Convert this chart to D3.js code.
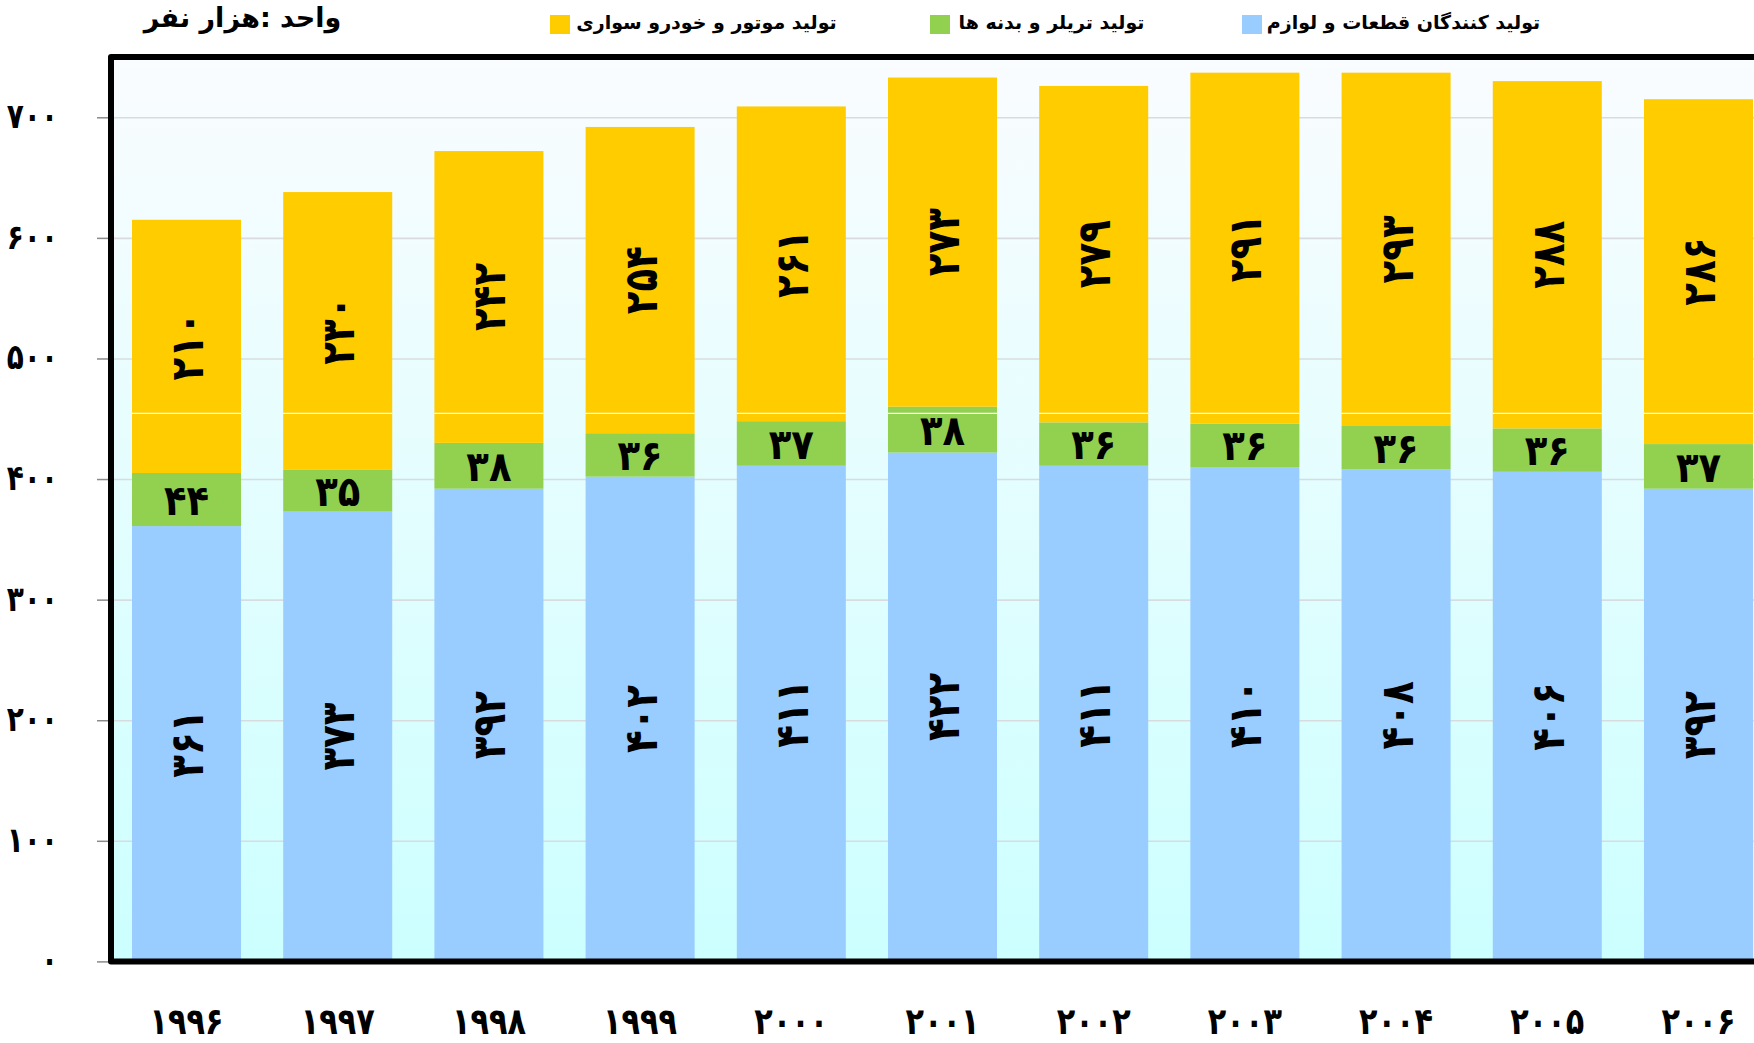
<!DOCTYPE html>
<html>
<head>
<meta charset="utf-8">
<script src="https://cdn.jsdelivr.net/npm/d3@7"></script>
<style>
  html, body { margin: 0; padding: 0; background: #ffffff; overflow: hidden; }
  svg { display: block; }
</style>
</head>
<body>
<svg id="chart" width="1754" height="1043"></svg>
<script>
// ---- data (thousand persons) ----
const years = [1996, 1997, 1998, 1999, 2000, 2001, 2002, 2003, 2004, 2005, 2006];
const partsSuppliers = [361, 373, 392, 402, 411, 422, 411, 410, 408, 406, 392];
const trailersBodies = [44, 35, 38, 36, 37, 38, 36, 36, 36, 36, 37];
const enginesCars    = [210, 230, 242, 254, 261, 273, 279, 291, 293, 288, 286];
const yTickValues = [0, 100, 200, 300, 400, 500, 600, 700];
const seriesKeys = ["parts", "trailers", "cars"];
const seriesLabels = ["تولید کنندگان قطعات و لوازم", "تولید تریلر و بدنه ها", "تولید موتور و خودرو سواری"];
const unitTitle = "واحد :هزار نفر";
const splitLineValue = 454.5;

// ---- styling ----
const colors = { parts: "#99CCFF", trailers: "#92D050", cars: "#FFCC00" };
const FONT = "'DejaVu Sans', sans-serif";
const faDigits = "۰۱۲۳۴۵۶۷۸۹";
const toFa = n => String(n).replace(/[0-9]/g, d => faDigits[+d]);

const svg = d3.select("#chart");
const W = 1754, H = 1043;
const plot = { left: 111, top: 57, bottom: 961.4, right: 1774 };

const rows = years.map((yr, i) => ({
  year: yr,
  parts: partsSuppliers[i],
  trailers: trailersBodies[i],
  cars: enginesCars[i]
}));
const stacked = d3.stack().keys(seriesKeys)(rows);

const x = d3.scaleBand()
  .domain(years)
  .range([plot.left, plot.right])
  .paddingInner(0.279)
  .paddingOuter(0.139);

const y = d3.scaleLinear()
  .domain([0, 750])
  .range([plot.bottom, plot.top]);

// ---- background gradient ----
const defs = svg.append("defs");
const grad = defs.append("linearGradient")
  .attr("id", "bgGrad").attr("x1", 0).attr("y1", 0).attr("x2", 0).attr("y2", 1);
grad.append("stop").attr("offset", "0%").attr("stop-color", "#fafcfe");
grad.append("stop").attr("offset", "100%").attr("stop-color", "#ccffff");

svg.append("rect")
  .attr("x", plot.left).attr("y", plot.top)
  .attr("width", plot.right - plot.left).attr("height", plot.bottom - plot.top)
  .attr("fill", "url(#bgGrad)");

// ---- gridlines ----
const grid = svg.append("g")
  .attr("transform", `translate(${plot.left},0)`)
  .call(d3.axisLeft(y).tickValues(yTickValues).tickSize(-(plot.right - plot.left)).tickFormat(""));
grid.select(".domain").remove();
grid.selectAll("line").attr("stroke", "#d8dcdf").attr("stroke-width", 1.6);

// ---- bars ----
const layers = svg.append("g").selectAll("g")
  .data(stacked).join("g")
  .attr("fill", d => colors[d.key]);

layers.selectAll("rect")
  .data(d => d).join("rect")
  .attr("x", d => x(d.data.year))
  .attr("y", d => y(d[1]))
  .attr("width", x.bandwidth())
  .attr("height", d => y(d[0]) - y(d[1]));

// thin white split line crossing every column
svg.append("g").selectAll("line")
  .data(rows).join("line")
  .attr("x1", d => x(d.year)).attr("x2", d => x(d.year) + x.bandwidth())
  .attr("y1", y(splitLineValue)).attr("y2", y(splitLineValue))
  .attr("stroke", "#ffffff").attr("stroke-width", 1.2);

// ---- y axis ticks & labels ----
const tickSX = 0.8;
const tickLen = 14, tickPad = 39;
const yAxis = svg.append("g")
  .attr("transform", `translate(${plot.left},0)`)
  .call(d3.axisLeft(y).tickValues(yTickValues).tickSize(tickLen).tickPadding(tickPad).tickFormat(toFa));
yAxis.select(".domain").remove();
yAxis.selectAll("line").attr("stroke", "#8a8a8a").attr("stroke-width", 1.5);
yAxis.selectAll("text")
  .attr("x", -(tickLen + tickPad) / tickSX)
  .attr("transform", `scale(${tickSX},1)`)
  .attr("font-family", FONT).attr("font-weight", "bold")
  .attr("font-size", 35).attr("fill", "#000")
  .attr("dy", "0.3em");

// ---- frame (top, left, bottom) ----
svg.append("path")
  .attr("d", `M${W + 10},${plot.top} L${plot.left},${plot.top} L${plot.left},${plot.bottom} L${W + 10},${plot.bottom}`)
  .attr("fill", "none").attr("stroke", "#000").attr("stroke-width", 6)
  .attr("stroke-linejoin", "round");

// ---- x labels ----
const yearSX = 0.82;
svg.append("g").selectAll("text")
  .data(years).join("text")
  .attr("transform", d => `translate(${x(d) + x.bandwidth() / 2},1034) scale(${yearSX},1)`)
  .attr("text-anchor", "middle")
  .attr("font-family", FONT).attr("font-weight", "bold")
  .attr("font-size", 37).attr("fill", "#000")
  .text(toFa);

// ---- value labels ----
const labelG = svg.append("g");
stacked.forEach(layer => {
  layer.forEach(seg => {
    const cx = x(seg.data.year) + x.bandwidth() / 2;
    const cy = (y(seg[0]) + y(seg[1])) / 2;
    const val = seg[1] - seg[0];
    const vertical = layer.key !== "trailers";
    const t = vertical
      ? `translate(${cx},${cy}) rotate(-90) scale(0.81,1)`
      : `translate(${cx},${cy}) scale(0.88,1)`;
    labelG.append("text")
      .attr("transform", t)
      .attr("text-anchor", "middle")
      .attr("dy", "0.36em")
      .attr("font-family", FONT).attr("font-weight", "bold")
      .attr("font-size", vertical ? 46 : 42).attr("fill", "#000")
      .text(toFa(val));
  });
});

// ---- legend ----
const legendItems = [
  { key: "cars", sq: 550, tx: 706.5 },
  { key: "trailers", sq: 930, tx: 1051.5 },
  { key: "parts", sq: 1242, tx: 1403.5 }
];
const lg = svg.append("g");
legendItems.forEach(it => {
  lg.append("rect").attr("x", it.sq).attr("y", 15).attr("width", 20).attr("height", 19)
    .attr("fill", colors[it.key]);
  lg.append("text")
    .attr("x", it.tx).attr("y", 29)
    .attr("text-anchor", "middle").attr("direction", "rtl")
    .attr("font-family", FONT).attr("font-weight", "bold")
    .attr("font-size", 19).attr("fill", "#000")
    .text(seriesLabels[seriesKeys.indexOf(it.key)]);
});

// ---- unit title ----
svg.append("text")
  .attr("x", 242.5).attr("y", 27)
  .attr("text-anchor", "middle").attr("direction", "rtl")
  .attr("font-family", FONT).attr("font-weight", "bold")
  .attr("font-size", 27).attr("fill", "#000")
  .text(unitTitle);
</script>
</body>
</html>
